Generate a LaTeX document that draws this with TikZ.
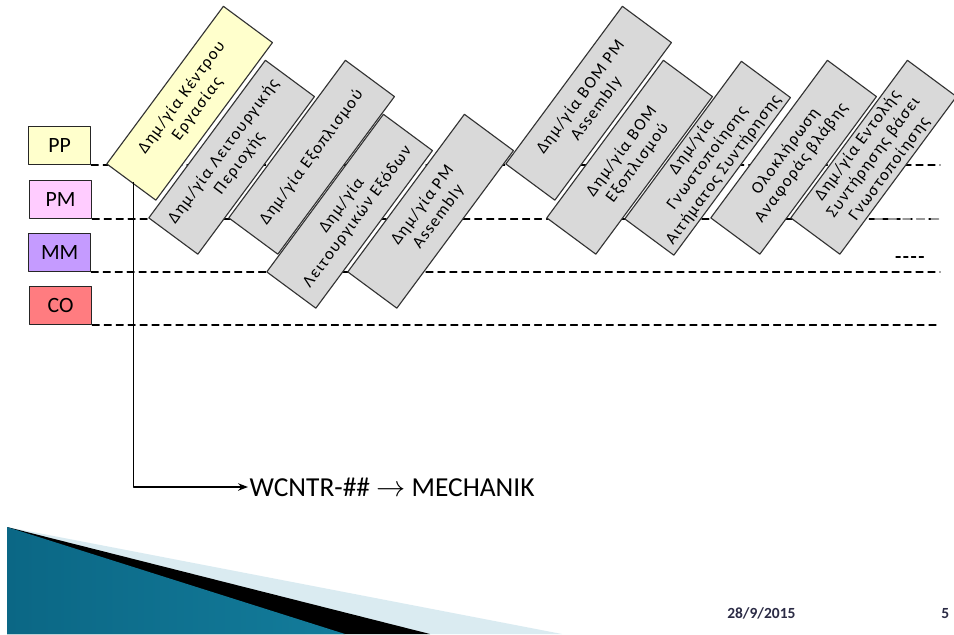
\documentclass[tikz,border=0pt]{standalone}
\usepackage{fontspec}
\setmainfont{Carlito}
\newfontfamily\stepfont[LetterSpace=8]{Carlito}
\usepackage{tikz}
\usetikzlibrary{arrows.meta}
\definecolor{ppcol}{HTML}{FFFFCC}
\definecolor{pmcol}{HTML}{FFCCFF}
\definecolor{mmcol}{HTML}{C59BFF}
\definecolor{cocol}{HTML}{FF7C80}
\definecolor{stepgray}{HTML}{D9D9D9}
\definecolor{tealdark}{HTML}{0B6785}
\definecolor{teallight}{HTML}{5BB7D6}
\definecolor{tealmid}{HTML}{137C9B}
\definecolor{skypale}{HTML}{DAEBF1}
\definecolor{datecol}{HTML}{2B2B45}
\tikzset{
  every picture/.style={line join=round, line cap=round, >=Stealth},
  stepbox/.style={draw=black!80, line width=0.8pt, fill=stepgray, rotate=53.5,
    anchor=north west, minimum width=4.9cm, minimum height=1.525cm,
    align=center, inner sep=1pt, font=\stepfont\fontsize{12}{14}\selectfont},
  modbox/.style={draw=black!85, line width=0.9pt, minimum width=1.55cm,
    minimum height=0.95cm, anchor=south west, font=\fontsize{15.5}{17}\selectfont},
  level/.style={dash pattern=on 5pt off 3.5pt, line width=0.8pt},
}

\begin{document}
\begin{tikzpicture}[x=0.025cm,y=-0.025cm]
\useasboundingbox (0,0) rectangle (954,634);
\node[modbox,fill=ppcol] (pp) at (28,165) {PP};
\node[modbox,fill=pmcol] (pm) at (29,219) {PM};
\node[modbox,fill=mmcol] (mm) at (28,272) {MM};
\node[modbox,fill=cocol] (co) at (29,325) {CO};
\coordinate (rend) at (940,0);
\draw[level] (pp.south east) -- (pp.south east -| rend);
\draw[level] (pm.south east) -- (pm.south east -| rend);
\draw[level] (mm.south east) -- (mm.south east -| rend);
\draw[level] (co.south east) -- (co.south east -| rend);
\draw[level,gray!80,line width=1.4pt,dash pattern=on 5pt off 5pt] (875,219) -- (940,219);
\draw[level,dash pattern=on 3pt off 2.5pt] (896,257) -- (925,257);

\node[stepbox,fill=ppcol] (b1) at (106,164) {Δημ/γία Κέντρου\\Εργασίας};
\node[stepbox] (b2) at (148,218) {Δημ/γία Λειτουργικής\\Περιοχής};
\node[stepbox] (b3) at (228,218) {Δημ/γία Εξοπλισμού};
\node[stepbox] (b4) at (266,272) {Δημ/γία\\Λειτουργικών Εξόδων};
\node[stepbox] (b5) at (347,272) {Δημ/γία PM\\Assembly};
\node[stepbox] (b6) at (505,164) {Δημ/γία BOM PM\\Assembly};
\node[stepbox] (b7) at (546,218) {Δημ/γία BOM\\Εξοπλισμού};
\node[stepbox] (b8) at (624,219) {Δημ/γία\\Γνωστοποίησης\\Αιτήματος Συντήρησης};
\node[stepbox] (b9) at (710,218) {Ολοκλήρωση\\Αναφοράς βλάβης};
\node[stepbox] (b10) at (790,218) {Δημ/γία Εντολής\\Συντήρησης βάσει\\Γνωστοποίησης};

\node[anchor=west,inner sep=1pt,font=\fontsize{19.5}{22}\selectfont] (wc) at (248,487) {WCNTR-\#\# $\rightarrow$ MECHANIK};
\draw[->,line width=0.9pt] ([xshift=2pt]b1.west) |- (wc.west);

\fill[skypale] (7,527) -- (562,634) -- (7,634) -- cycle;
\fill[black] (7,527) -- (430,634) -- (7,634) -- cycle;
\shade[left color=tealdark,middle color=teallight,right color=tealmid] (7,527) -- (345,634) -- (7,634) -- cycle;

\node[anchor=base west,inner sep=0pt,text=datecol,font=\bfseries\fontsize{11}{13}\selectfont] (date) at (727,618) {28/9/2015};
\node[anchor=base west,inner sep=0pt,text=datecol,font=\bfseries\fontsize{11}{13}\selectfont] (page) at (941,618) {5};
\end{tikzpicture}
\end{document}
